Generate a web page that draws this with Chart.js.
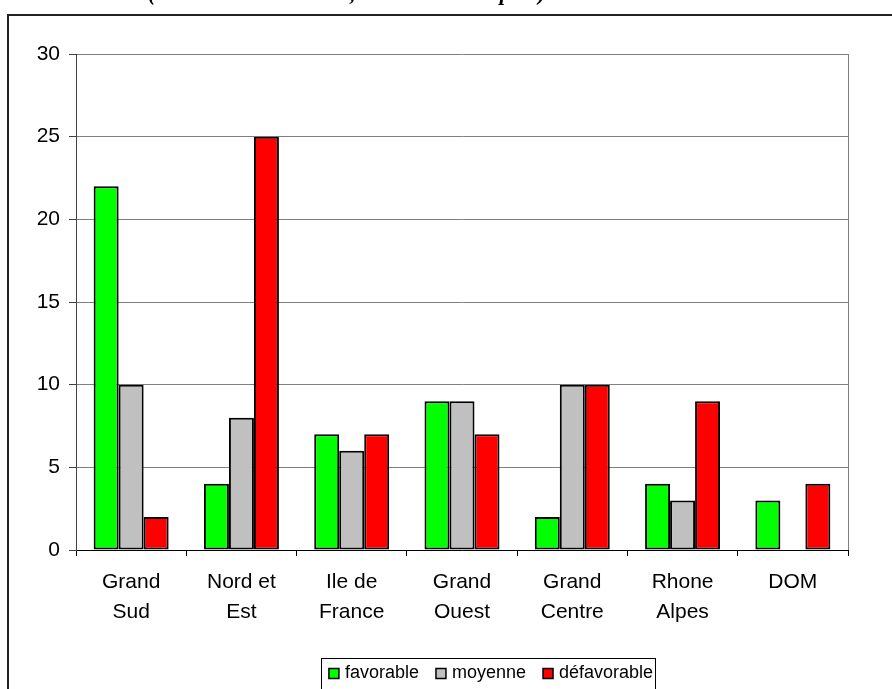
<!DOCTYPE html>
<html><head><meta charset="utf-8">
<script src="https://cdn.jsdelivr.net/npm/chart.js@4"></script>
<style>html,body{margin:0;padding:0;background:#fff;overflow:hidden}#c{display:block}</style>
</head><body>
<canvas id="c" width="892" height="689"></canvas>
<script>
const categories = [["Grand","Sud"],["Nord et","Est"],["Ile de","France"],["Grand","Ouest"],["Grand","Centre"],["Rhone","Alpes"],["DOM"]];
const favorable = [22,4,7,9,2,4,3];
const moyenne = [10,8,6,9,10,3,0];
const defavorable = [2,25,7,7,10,9,4];
const seriesNames = ["favorable","moyenne","défavorable"];
const seriesColors = ["#00FF00","#C0C0C0","#FF0000"];
const yTicks = [0,5,10,15,20,25,30];
const titleText = "(nombre de structures, sur un total de plus)";

const FONT = "'Liberation Sans', Arial, sans-serif";

const framePlugin = {
  id: 'frame',
  beforeDraw(chart) {
    const ctx = chart.ctx;
    ctx.save();
    ctx.fillStyle = '#fff';
    ctx.fillRect(0, 0, chart.width, chart.height);
    ctx.strokeStyle = '#222';
    ctx.lineWidth = 2;
    ctx.strokeRect(8, 15, 1000, 1000);
    // title, mostly cut off above the top edge
    ctx.font = "italic bold 26px 'Liberation Serif', serif";
    const w = ctx.measureText(titleText).width;
    const size = 26 * 398 / w;
    ctx.font = "italic bold " + size.toFixed(1) + "px 'Liberation Serif', serif";
    ctx.fillStyle = '#000';
    ctx.textBaseline = 'alphabetic';
    ctx.textAlign = 'left';
    ctx.fillText(titleText, 148, 0);
    ctx.restore();
  },
  beforeDatasetsDraw(chart) {
    const ctx = chart.ctx, a = chart.chartArea;
    ctx.save();
    ctx.strokeStyle = '#808080';
    ctx.lineWidth = 1;
    ctx.beginPath();
    ctx.moveTo(Math.round(a.right) + 0.5, a.top);
    ctx.lineTo(Math.round(a.right) + 0.5, a.bottom);
    ctx.stroke();
    ctx.restore();
  },
  afterDraw(chart) {
    const ctx = chart.ctx;
    ctx.save();
    ctx.font = "18px " + FONT;
    const ds = chart.data.datasets;
    const box = 10, gap = 6, itemGap = 17;
    const widths = ds.map(d => ctx.measureText(d.label).width);
    let total = 0;
    widths.forEach((w, i) => { total += box + gap + w + (i < widths.length - 1 ? itemGap : 0); });
    const cx = 491, cy = 673.5;
    let x = cx - total / 2;
    ctx.strokeStyle = '#000';
    ctx.lineWidth = 1;
    ctx.strokeRect(Math.round(x - 8) + 0.5, 658.5, Math.round(total + 10), 60);
    ds.forEach((d, i) => {
      ctx.fillStyle = d.backgroundColor;
      ctx.fillRect(x, cy - box / 2, box, box);
      ctx.lineWidth = 1.5;
      ctx.strokeStyle = '#000';
      ctx.strokeRect(x, cy - box / 2, box, box);
      ctx.fillStyle = '#000';
      ctx.textBaseline = 'middle';
      ctx.textAlign = 'left';
      ctx.fillText(d.label, x + box + gap, cy);
      x += box + gap + widths[i] + itemGap;
    });
    ctx.restore();
  }
};

const seriesData = [favorable, moyenne, defavorable];

new Chart(document.getElementById('c'), {
  type: 'bar',
  data: {
    labels: categories,
    datasets: seriesData.map((d, i) => ({
      label: seriesNames[i],
      data: d,
      backgroundColor: seriesColors[i],
      borderColor: '#000',
      borderWidth: 2,
      borderSkipped: false,
      barPercentage: 1,
      categoryPercentage: 0.68
    }))
  },
  options: {
    responsive: false,
    animation: false,
    devicePixelRatio: 1,
    layout: { padding: { left: 0, top: 54, right: 44, bottom: 0 } },
    plugins: { legend: { display: false }, tooltip: { enabled: false }, title: { display: false } },
    scales: {
      x: {
        grid: { display: true, drawOnChartArea: false, tickLength: 6, color: '#000', offset: true },
        border: { display: true, color: '#000', width: 1 },
        ticks: { font: { family: FONT, size: 21, lineHeight: 1.43 }, color: '#000', padding: 11, maxRotation: 0, autoSkip: false },
        afterFit: s => { s.height = 139; }
      },
      y: {
        min: yTicks[0], max: yTicks[yTicks.length - 1],
        afterBuildTicks: s => { s.ticks = yTicks.map(v => ({ value: v })); },
        grid: { color: '#808080', tickColor: '#404040', tickLength: 7, lineWidth: 1 },
        border: { display: true, color: '#404040', width: 1 },
        ticks: { font: { family: FONT, size: 21 }, color: '#000', padding: 9 },
        afterFit: s => { s.width = 76; }
      }
    }
  },
  plugins: [framePlugin]
});
</script>
</body></html>
